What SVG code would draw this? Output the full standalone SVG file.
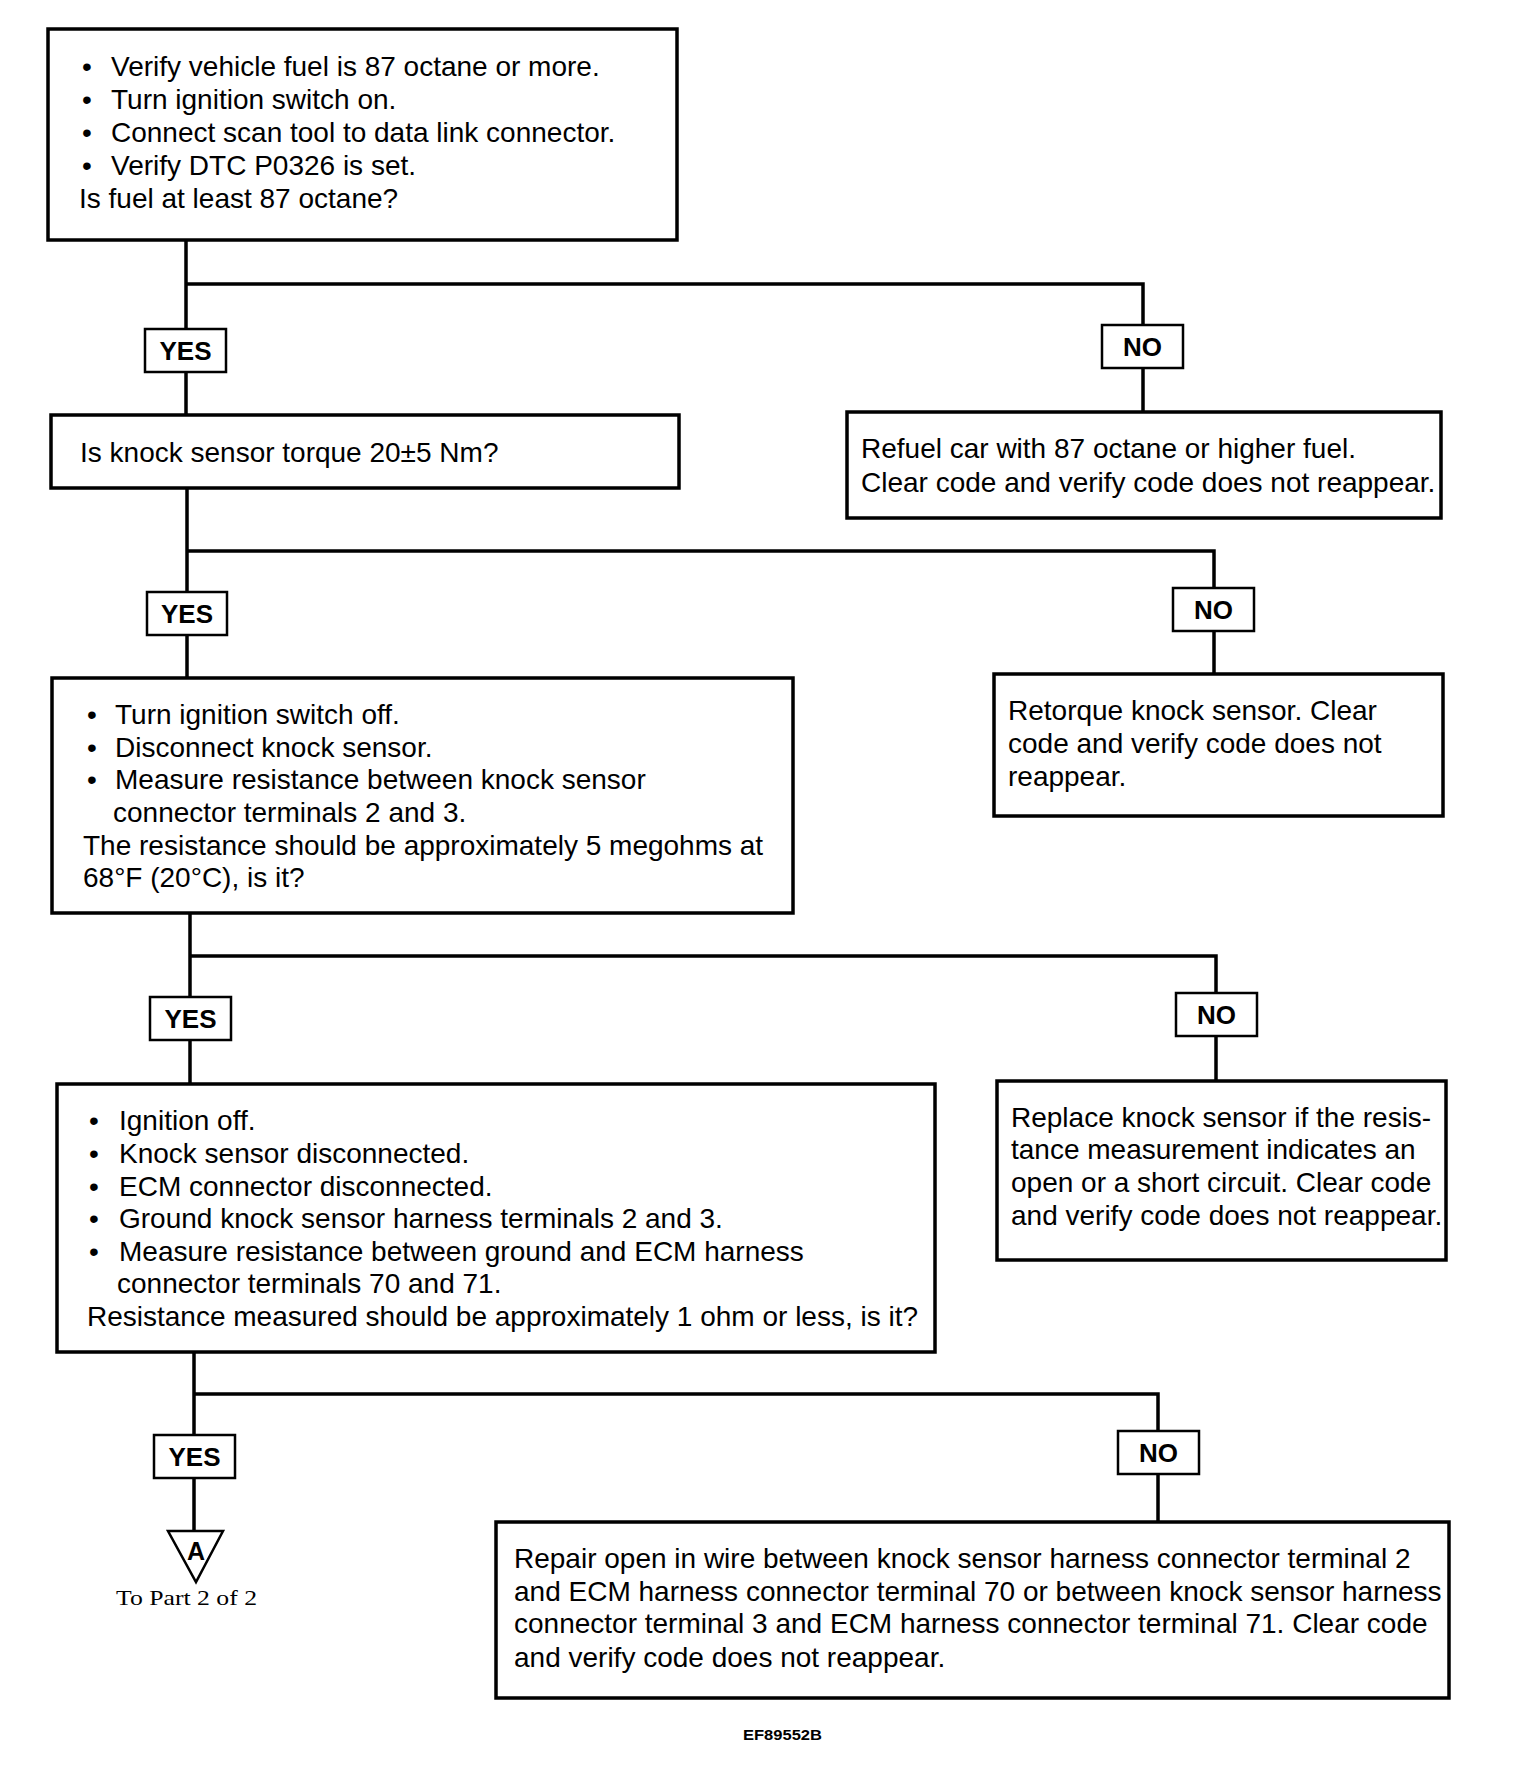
<svg xmlns="http://www.w3.org/2000/svg" width="1520" height="1766" viewBox="0 0 1520 1766">
<style>
.box{fill:#fff;stroke:#000;stroke-width:3.5}
.lbl{fill:#fff;stroke:#000;stroke-width:2.5}
.t{font-family:"Liberation Sans",Arial,sans-serif;font-size:28px;fill:#000}
.b{font-family:"Liberation Sans",Arial,sans-serif;font-size:26px;font-weight:bold;fill:#000;text-anchor:middle}
.con{fill:none;stroke:#000;stroke-width:3.5}
</style>
<rect width="1520" height="1766" fill="#fff"/>
<g id="connectors" class="con">
<path d="M186 240V329M186 372V415M186 284H1143V325M1143 368V412"/>
<path d="M187 488V592M187 635V678M187 551H1214V588M1214 631V674"/>
<path d="M190 913V997M190 1040V1084M190 956H1216V993M1216 1036V1081"/>
<path d="M194 1352V1435M194 1478V1531M194 1394H1158V1431M1158 1474V1522"/>
</g>
<g id="step1">
<rect class="box" x="48" y="29" width="629" height="211"/>
<text class="t" x="82" y="76">•</text><text class="t" x="111" y="76">Verify vehicle fuel is 87 octane or more.</text>
<text class="t" x="82" y="109">•</text><text class="t" x="111" y="109">Turn ignition switch on.</text>
<text class="t" x="82" y="142">•</text><text class="t" x="111" y="142">Connect scan tool to data link connector.</text>
<text class="t" x="82" y="175">•</text><text class="t" x="111" y="175">Verify DTC P0326 is set.</text>
<text class="t" x="79" y="208">Is fuel at least 87 octane?</text>
</g>
<g id="yes1"><rect class="lbl" x="145" y="329" width="81" height="43"/><text class="b" x="185.5" y="360">YES</text></g>
<g id="no1"><rect class="lbl" x="1102" y="325" width="81" height="43"/><text class="b" x="1142.5" y="356">NO</text></g>
<g id="refuel">
<rect class="box" x="847" y="412" width="594" height="106"/>
<text class="t" x="861" y="458">Refuel car with 87 octane or higher fuel.</text>
<text class="t" x="861" y="492">Clear code and verify code does not reappear.</text>
</g>
<g id="step2">
<rect class="box" x="51" y="415" width="628" height="73"/>
<text class="t" x="80" y="462">Is knock sensor torque 20±5 Nm?</text>
</g>
<g id="yes2"><rect class="lbl" x="147" y="592" width="80" height="43"/><text class="b" x="187" y="623">YES</text></g>
<g id="no2"><rect class="lbl" x="1173" y="588" width="81" height="43"/><text class="b" x="1213.5" y="619">NO</text></g>
<g id="retorque">
<rect class="box" x="994" y="674" width="449" height="142"/>
<text class="t" x="1008" y="720">Retorque knock sensor. Clear</text>
<text class="t" x="1008" y="753">code and verify code does not</text>
<text class="t" x="1008" y="786">reappear.</text>
</g>
<g id="step3">
<rect class="box" x="52" y="678" width="741" height="235"/>
<text class="t" x="87" y="724">•</text><text class="t" x="115" y="724">Turn ignition switch off.</text>
<text class="t" x="87" y="757">•</text><text class="t" x="115" y="757">Disconnect knock sensor.</text>
<text class="t" x="87" y="789">•</text><text class="t" x="115" y="789">Measure resistance between knock sensor</text>
<text class="t" x="113" y="822">connector terminals 2 and 3.</text>
<text class="t" x="83" y="855">The resistance should be approximately 5 megohms at</text>
<text class="t" x="83" y="887">68°F (20°C), is it?</text>
</g>
<g id="yes3"><rect class="lbl" x="150" y="997" width="81" height="43"/><text class="b" x="190.5" y="1028">YES</text></g>
<g id="no3"><rect class="lbl" x="1176" y="993" width="81" height="43"/><text class="b" x="1216.5" y="1024">NO</text></g>
<g id="replace">
<rect class="box" x="997" y="1081" width="449" height="179"/>
<text class="t" x="1011" y="1127">Replace knock sensor if the resis-</text>
<text class="t" x="1011" y="1159">tance measurement indicates an</text>
<text class="t" x="1011" y="1192">open or a short circuit. Clear code</text>
<text class="t" x="1011" y="1225">and verify code does not reappear.</text>
</g>
<g id="step4">
<rect class="box" x="57" y="1084" width="878" height="268"/>
<text class="t" x="89" y="1130">•</text><text class="t" x="119" y="1130">Ignition off.</text>
<text class="t" x="89" y="1163">•</text><text class="t" x="119" y="1163">Knock sensor disconnected.</text>
<text class="t" x="89" y="1196">•</text><text class="t" x="119" y="1196">ECM connector disconnected.</text>
<text class="t" x="89" y="1228">•</text><text class="t" x="119" y="1228">Ground knock sensor harness terminals 2 and 3.</text>
<text class="t" x="89" y="1261">•</text><text class="t" x="119" y="1261">Measure resistance between ground and ECM harness</text>
<text class="t" x="117" y="1293">connector terminals 70 and 71.</text>
<text class="t" x="87" y="1326">Resistance measured should be approximately 1 ohm or less, is it?</text>
</g>
<g id="yes4"><rect class="lbl" x="154" y="1435" width="81" height="43"/><text class="b" x="194.5" y="1466">YES</text></g>
<g id="no4"><rect class="lbl" x="1118" y="1431" width="81" height="43"/><text class="b" x="1158.5" y="1462">NO</text></g>
<g id="offpage-a">
<polygon points="168,1531 223,1531 196,1582" fill="#fff" stroke="#000" stroke-width="2.5"/>
<text x="196" y="1560" font-family="Liberation Sans,Arial,sans-serif" font-size="25" font-weight="bold" text-anchor="middle">A</text>
<text x="116" y="1605" font-family="Liberation Serif,Times New Roman,serif" font-size="22" textLength="141" lengthAdjust="spacingAndGlyphs">To Part 2 of 2</text>
</g>
<g id="repair">
<rect class="box" x="496" y="1522" width="953" height="176"/>
<text class="t" x="514" y="1568">Repair open in wire between knock sensor harness connector terminal 2</text>
<text class="t" x="514" y="1601">and ECM harness connector terminal 70 or between knock sensor harness</text>
<text class="t" x="514" y="1633">connector terminal 3 and ECM harness connector terminal 71. Clear code</text>
<text class="t" x="514" y="1667">and verify code does not reappear.</text>
</g>
<text x="743" y="1740" font-family="Liberation Sans,Arial,sans-serif" font-size="14" font-weight="bold" textLength="79" lengthAdjust="spacingAndGlyphs">EF89552B</text>
</svg>
